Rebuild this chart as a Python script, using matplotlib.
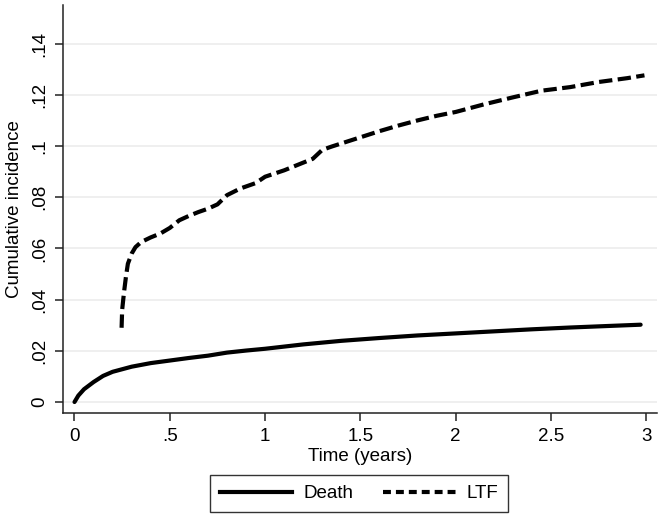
import matplotlib
matplotlib.use("Agg")
import matplotlib.pyplot as plt
from matplotlib.lines import Line2D

# ---- data ----
death_t = [0, 0.02, 0.05, 0.1, 0.15, 0.2, 0.3, 0.4, 0.5, 0.6, 0.7, 0.8, 0.9, 1.0,
           1.2, 1.4, 1.6, 1.8, 2.0, 2.2, 2.4, 2.6, 2.8, 2.97]
death_y = [0, 0.0025, 0.005, 0.0078, 0.0102, 0.0118, 0.0138, 0.0152, 0.0162, 0.0172,
           0.0181, 0.0193, 0.0201, 0.0208, 0.0225, 0.0239, 0.0250, 0.0260, 0.0268,
           0.0276, 0.0284, 0.0291, 0.0297, 0.0302]

ltf_t = [0.247, 0.25, 0.26, 0.27, 0.28, 0.30, 0.32, 0.35, 0.40, 0.45, 0.50, 0.55, 0.60,
         0.65, 0.70, 0.75, 0.80, 0.87, 0.95, 1.0, 1.1, 1.2, 1.25, 1.30, 1.35, 1.45, 1.6,
         1.7, 1.8, 1.9, 2.0, 2.15, 2.3, 2.45, 2.6, 2.75, 2.9, 2.99]
ltf_y = [0.029, 0.036, 0.043, 0.049, 0.054, 0.058, 0.0605, 0.0625, 0.0643, 0.0658,
         0.0680, 0.0710, 0.0727, 0.0742, 0.0755, 0.0772, 0.0808, 0.0834, 0.0855, 0.0880,
         0.0905, 0.0935, 0.0950, 0.0985, 0.0998, 0.1022, 0.1058, 0.1080, 0.1100, 0.1118,
         0.1133, 0.1163, 0.1190, 0.1216, 0.1230, 0.1250, 0.1265, 0.1276]

x_ticks = [0, 0.5, 1, 1.5, 2, 2.5, 3]
x_ticklabels = ["0", ".5", "1", "1.5", "2", "2.5", "3"]
y_ticks = [0, 0.02, 0.04, 0.06, 0.08, 0.10, 0.12, 0.14]
y_ticklabels = ["0", ".02", ".04", ".06", ".08", ".1", ".12", ".14"]

plt.rcParams['font.family'] = ['Liberation Sans', 'DejaVu Sans']
FS = 13.5

fig = plt.figure(figsize=(6.64, 5.19), dpi=100)
ax = fig.add_axes([0.0944, 0.2037, 0.8951, 0.7863])

lw = 3.0
ax.plot(death_t, death_y, color='black', lw=lw, solid_capstyle='round',
        solid_joinstyle='round', label='Death')
ax.plot(ltf_t, ltf_y, color='black', lw=lw, dashes=(3.2, 1.3),
        dash_capstyle='butt', label='LTF')

ax.set_xlim(-0.062, 3.056)
ax.set_ylim(-0.0044, 0.155)

for s in ['top', 'right']:
    ax.spines[s].set_visible(False)
for s in ['left', 'bottom']:
    ax.spines[s].set_linewidth(1.1)
    ax.spines[s].set_color('#222222')

ax.set_xticks(x_ticks)
ax.set_xticklabels(x_ticklabels, fontsize=FS)
ax.set_yticks(y_ticks)
ax.set_yticklabels(y_ticklabels, fontsize=FS, rotation=90, va='center', ha='right')
ax.tick_params(direction='out', length=6, width=1.1, color='#222222', pad=4.5)

ax.yaxis.grid(True, color='#ebebeb', lw=1.1)
ax.set_axisbelow(True)

ax.set_xlabel("Time (years)", fontsize=FS, labelpad=2)
ax.set_ylabel("Cumulative incidence", fontsize=FS, labelpad=6)

handles = [Line2D([], [], color='black', lw=lw),
           Line2D([], [], color='black', lw=lw, dashes=(1.9, 1.2), dash_capstyle='butt')]
leg = fig.legend(handles, ['Death', 'LTF'], loc='center', bbox_to_anchor=(0.541, 0.0483),
                 ncol=2, fontsize=FS, frameon=True, fancybox=False, handlelength=3.85,
                 columnspacing=1.6, borderpad=0.53, handletextpad=0.6, borderaxespad=0)
leg.get_frame().set_edgecolor('black')
leg.get_frame().set_linewidth(1.0)

fig.savefig("out.png", dpi=100)
